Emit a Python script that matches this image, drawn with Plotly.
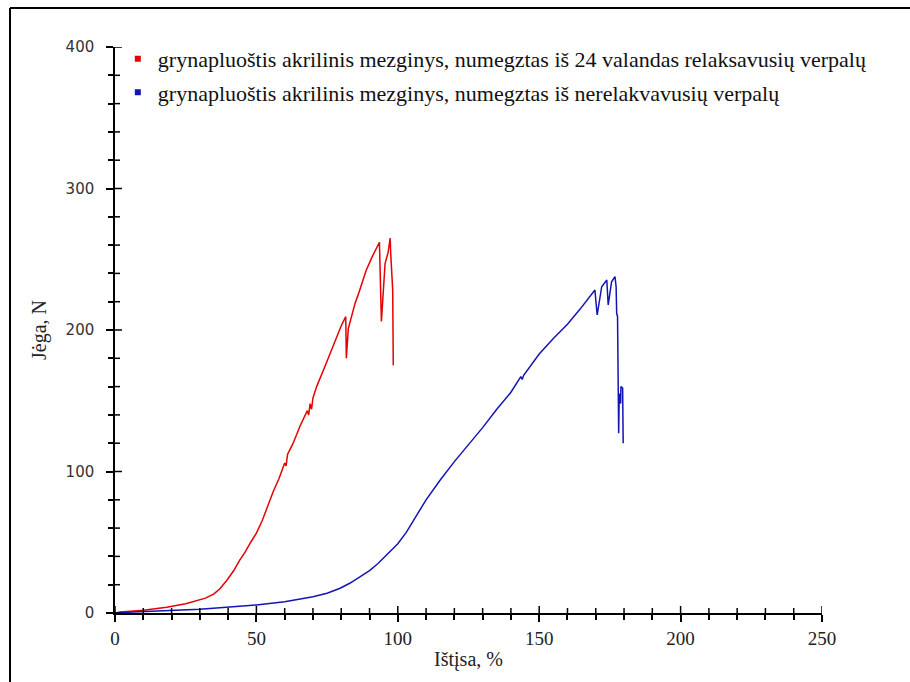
import plotly.graph_objects as go

# ---- data ----
red_x = [0, 2, 10, 18.3, 25, 30, 32, 35, 37, 39.5, 42, 44, 46, 48, 50, 52, 54, 56, 58, 60, 60.5, 61, 63, 65.4,
         68, 68.5, 69, 69.5, 70, 71.3, 74.8, 76, 78.4, 80, 81.6, 81.8, 82.5, 84.9, 86, 88.8, 91, 93.5,
         94.2, 94.5, 95.5, 96.6, 97.3, 97.5, 97.7, 98.2, 98.4]
red_y = [0, 0.8, 2, 4, 6.5, 9, 10.5, 13.5, 17, 23, 30, 37, 43, 50, 56.5, 65, 76, 86, 95, 106, 104, 112, 120, 132,
         143, 140, 148, 144, 152, 160, 177, 183, 195, 203, 209.4, 180, 201, 219, 225, 242, 252, 262,
         206, 215, 247, 255, 265, 254, 247, 228, 175]

blue_x = [0, 2, 15, 30, 50, 60, 70, 75, 79.6, 83, 86.6, 90, 93, 97, 100, 103, 106, 110, 115, 120, 125, 130, 135, 140,
          143.5, 144, 144.5, 150, 155, 160, 164.4, 167, 169.7, 170.5, 172.1, 173.9, 174.4, 175.6,
          176.8, 177.2, 177.4, 177.7, 178.1, 178.3, 178.8, 178.9, 179.5, 179.7]
blue_y = [0, 0.3, 1.5, 2.6, 5.7, 8, 11.5, 14, 17.5, 21, 25.5, 30, 35, 43, 49, 57, 67, 80, 94, 107, 119, 131, 144, 156,
          167, 165, 168, 183, 194, 204, 214.6, 221, 228.3, 210.6, 230.6, 235.3, 217.7, 234.1,
          237.7, 230.6, 211.8, 209.4, 127, 155, 148, 160, 159, 120]

names = ["grynapluoštis akrilinis mezginys, numegztas iš 24 valandas relaksavusių verpalų",
         "grynapluoštis akrilinis mezginys, numegztas iš nerelakvavusių verpalų"]
colors = ["#e60000", "#1414b4"]

x_range = [0, 250]
y_range = [0, 400]
x_major, x_minor = 50, 10
y_major, y_minor = 100, 20
x_title = "Ištįsa, %"
y_title = "Jėga, N"

SERIF = "Liberation Serif"

fig = go.Figure()
fig.add_trace(go.Scatter(x=red_x, y=red_y, mode="lines", line=dict(color=colors[0], width=1.5),
                         showlegend=False))
fig.add_trace(go.Scatter(x=blue_x, y=blue_y, mode="lines", line=dict(color=colors[1], width=1.5),
                         showlegend=False))
for i in range(2):
    fig.add_trace(go.Scatter(x=[None], y=[None], mode="markers", name=names[i],
                             legendgroup=f"g{i}",
                             marker=dict(symbol="square", size=6, color=colors[i])))

axis_common = dict(showgrid=False, zeroline=False, showline=True, linecolor="black", linewidth=1.5,
                   ticks="outside", ticklen=7, tickcolor="black", tickwidth=1.5)

# inner halves of the crossing tick marks
shapes = []
for v in range(x_range[0], x_range[1] + 1, x_minor):
    h = 7 if v % x_major == 0 else 5
    shapes.append(dict(type="line", xref="x", yref="y", ysizemode="pixel", yanchor=y_range[0],
                       x0=v, x1=v, y0=-h, y1=h, line=dict(color="black", width=1.5)))
for v in range(y_range[0], y_range[1] + 1, y_minor):
    h = 7 if v % y_major == 0 else 5
    shapes.append(dict(type="line", xref="x", yref="y", xsizemode="pixel", xanchor=x_range[0],
                       y0=v, y1=v, x0=-h, x1=h, line=dict(color="black", width=1.5)))
# outer frame (top and left edges)
shapes += [
    dict(type="line", xref="paper", yref="paper", x0=-0.1485, x1=1.2, y0=1.069, y1=1.069,
         line=dict(color="black", width=2)),
    dict(type="line", xref="paper", yref="paper", x0=-0.1485, x1=-0.1485, y0=-0.2, y1=1.069,
         line=dict(color="black", width=2)),
]

fig.update_layout(
    width=910, height=682,
    margin=dict(l=115, r=88, t=47, b=69),
    paper_bgcolor="white", plot_bgcolor="white",
    xaxis=dict(range=x_range, dtick=x_major,
               minor=dict(dtick=x_minor, ticks="outside", ticklen=5, tickcolor="black", tickwidth=1.5),
               tickfont=dict(family=SERIF, size=19, color="#222"),
               title=dict(text=x_title, font=dict(family=SERIF, size=20, color="#222"),
                          standoff=4),
               **axis_common),
    yaxis=dict(range=y_range, dtick=y_major,
               minor=dict(dtick=y_minor, ticks="outside", ticklen=5, tickcolor="black", tickwidth=1.5),
               tickfont=dict(family="DejaVu Sans", size=15, color="#333"),
               ticklabelstandoff=9,
               title=dict(text=y_title, font=dict(family=SERIF, size=20, color="#222"),
                          standoff=14),
               **axis_common),
    legend=dict(x=0.004, y=1.016, xanchor="left", yanchor="top", bgcolor="rgba(0,0,0,0)",
                font=dict(family=SERIF, size=22, color="#111"),
                tracegroupgap=2, traceorder="grouped"),
    shapes=shapes,
)

fig.write_html("out.html")
